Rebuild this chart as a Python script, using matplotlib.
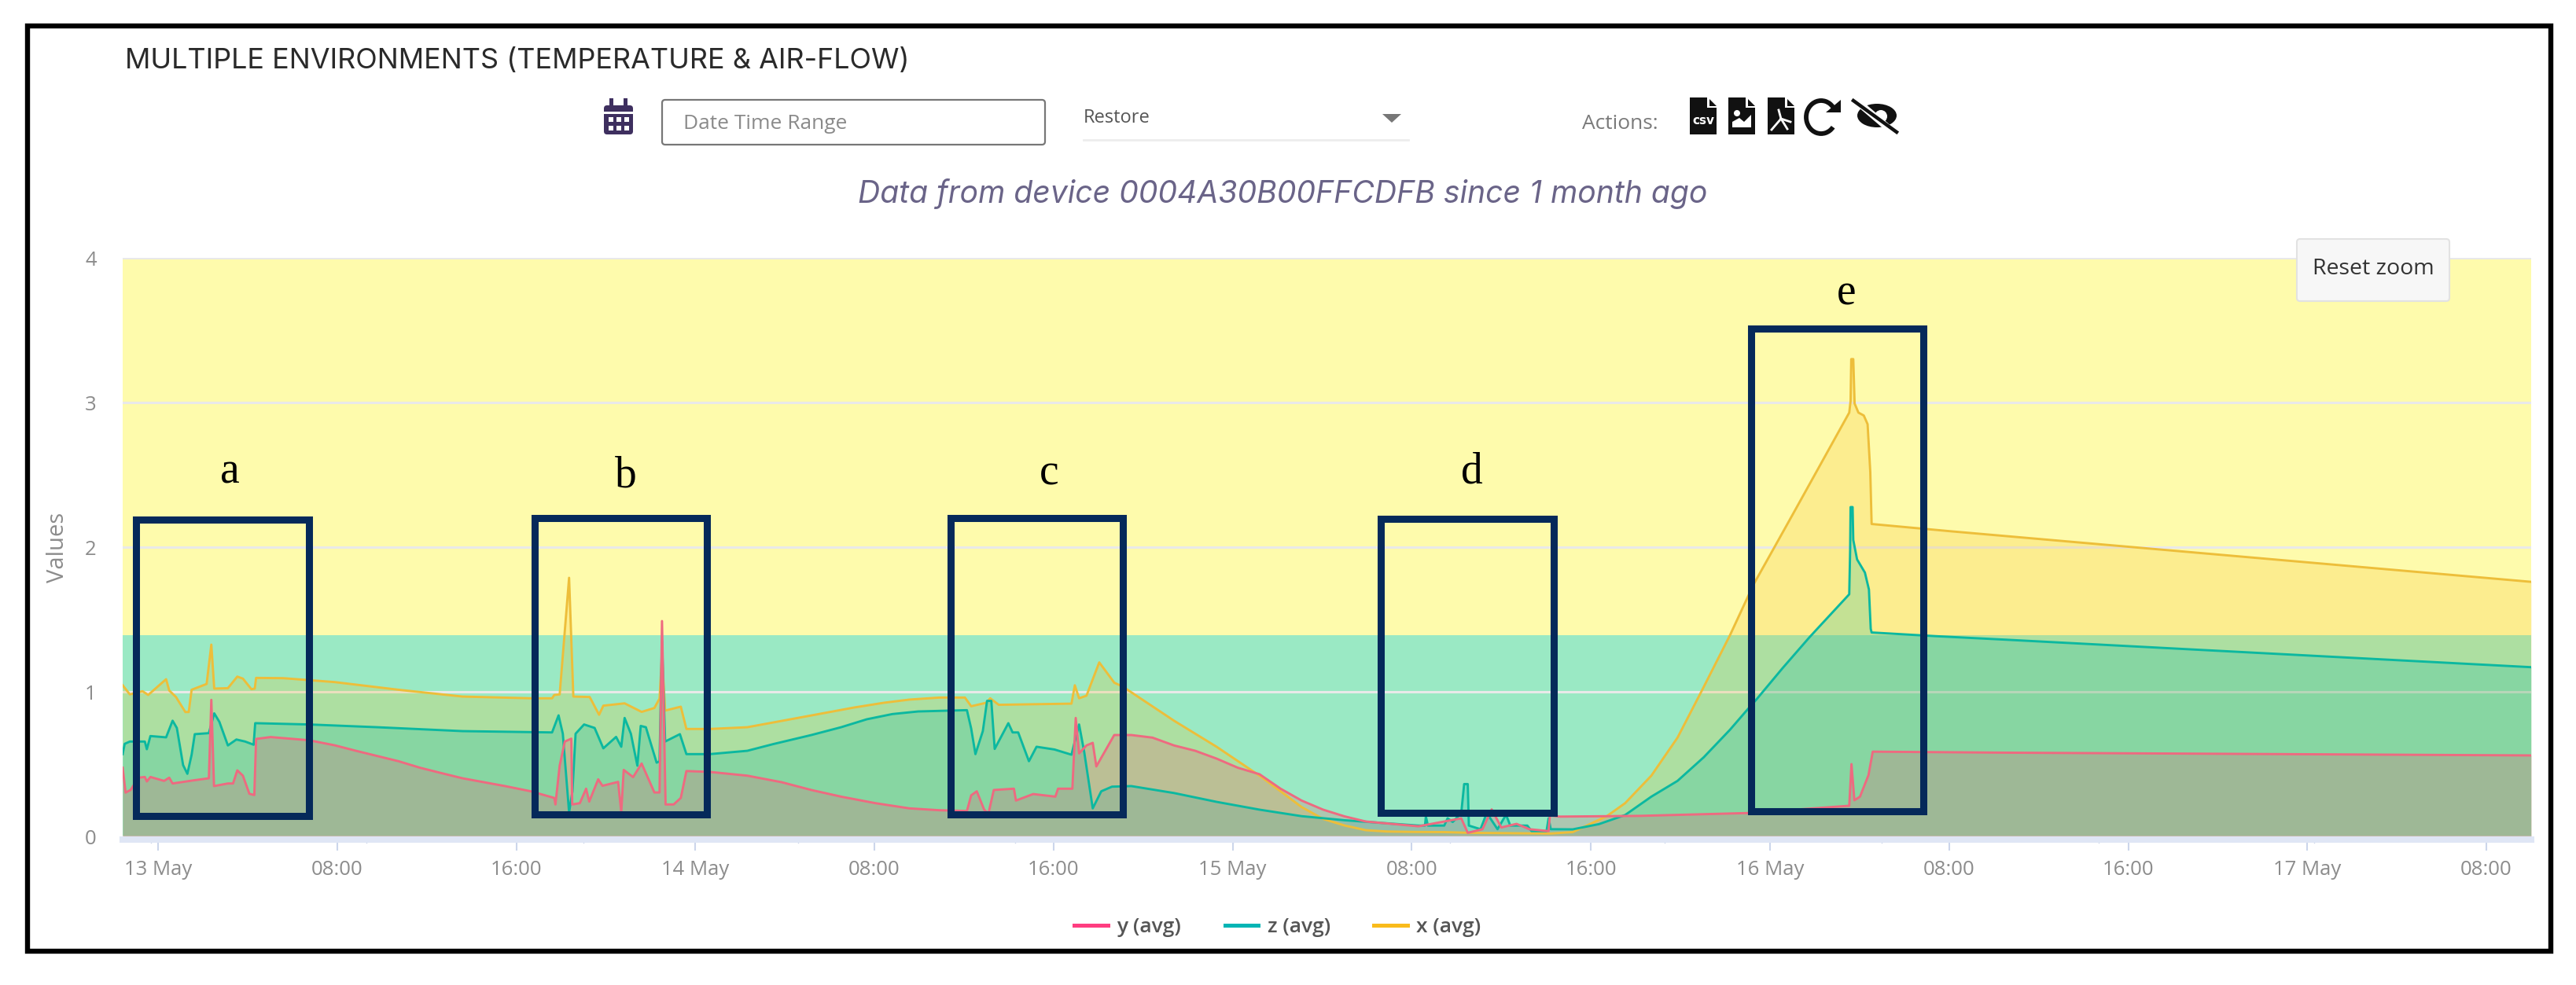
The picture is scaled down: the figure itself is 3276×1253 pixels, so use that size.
import matplotlib
matplotlib.use("Agg")
import matplotlib.pyplot as plt
from matplotlib.lines import Line2D
from matplotlib.patches import Rectangle, FancyBboxPatch, Polygon, Arc, Ellipse, Circle

W, H = 3276, 1253
#----------------------------------------------------
# data, hours since 13 May 00:00 against value
x_hours = [-1.58, -1.26, -0.69, -0.44, 0.36, 0.50, 0.80, 1.22, 1.37, 1.50, 2.17, 2.38, 2.51, 3.12, 3.54, 3.79, 4.17, 4.32,
           4.38, 5.6, 7.89, 10.74, 13.6, 16.65, 17.6, 17.7, 17.94, 18.36, 18.55, 19.28, 19.7, 19.89, 20.84, 21.6, 22.17,
           22.4, 22.51, 22.65, 23.35, 23.6, 24.65, 26.32, 29.2, 31.08, 32.42, 33.56, 34.9, 36.04, 36.32, 36.99, 37.17,
           37.55, 40.8, 40.95, 41.14, 41.47, 42.04, 42.32, 42.71, 43.09, 45.38, 47.28, 49.2, 50.14, 51.08, 52.04, 52.99,
           53.95, 54.9, 56.19, 57.45, 58.6, 62.21, 63.19, 64.71, 65.53, 66.7, 67.87, 68.93, 70.21, 71.27, 72.2, 73.03,
           74.2, 75.54, 75.6, 75.63, 75.72, 75.78, 75.95, 76.19, 76.36, 76.48, 76.54, 80.05, 106.0]
x_vals = [1.045, 0.982, 1.004, 0.978, 1.087, 1.009, 0.964, 0.860, 0.860, 1.014, 1.054, 1.326, 1.022, 1.025, 1.105, 1.091,
          1.018, 1.022, 1.096, 1.094, 1.067, 1.014, 0.967, 0.955, 0.955, 0.978, 0.982, 1.788, 0.967, 0.964, 0.841, 0.904,
          0.920, 0.861, 0.888, 0.953, 1.254, 0.87, 0.897, 0.743, 0.743, 0.755, 0.837, 0.891, 0.924, 0.946, 0.96, 0.96, 0.9,
          0.924, 0.955, 0.91, 0.918, 1.045, 0.955, 0.973, 1.203, 1.145, 1.063, 1.036, 0.80, 0.62, 0.42, 0.312, 0.203, 0.121,
          0.076, 0.043, 0.034, 0.031, 0.03, 0.025, 0.02, 0.03, 0.14, 0.23, 0.42, 0.683, 1.0, 1.39, 1.743, 2.0, 2.23,
          2.556, 2.93, 3.01, 3.30, 3.30, 2.993, 2.93, 2.91, 2.85, 2.52, 2.16, 2.11, 1.76]

z_hours = [-1.58, -1.49, -1.26, -0.59, -0.5, -0.34, 0.36, 0.65, 0.84, 1.12, 1.31, 1.5, 1.64, 2.27, 2.51, 2.74, 3.12, 3.5,
           3.89, 4.27, 4.34, 6.74, 9.79, 13.6, 17.6, 17.89, 18.08, 18.36, 18.51, 18.65, 19.03, 19.5, 19.89, 20.46, 20.69,
           20.84, 21.12, 21.41, 21.56, 21.79, 22.27, 22.4, 22.51, 22.65, 23.31, 23.6, 24.65, 26.32, 27.47, 29.18, 30.51,
           31.66, 32.8, 33.95, 36.13, 36.32, 36.51, 36.84, 37.03, 37.22, 37.37, 37.98, 38.17, 38.42, 38.9, 39.24, 40.04,
           40.8, 41.14, 41.37, 41.75, 42.13, 42.61, 43.47, 45.38, 47.28, 49.2, 51.08, 52.99, 56.3, 56.59, 56.63, 56.72,
           57.45, 57.6, 57.83, 58.21, 58.34, 58.5, 58.55, 59.07, 59.35, 59.83, 60.21, 60.4, 61.16, 61.35, 62.02, 62.11,
           62.21, 63.19, 64.36, 65.53, 66.7, 67.87, 69.04, 70.21, 70.92, 71.39, 72.56, 73.73, 74.08, 75.54, 75.58, 75.6,
           75.69, 75.72, 75.89, 76.24, 76.42, 76.5, 76.54, 79.35, 82.55, 106.0]
z_vals = [0.569, 0.64, 0.656, 0.656, 0.603, 0.694, 0.685, 0.8, 0.75, 0.493, 0.433, 0.565, 0.707, 0.714, 0.851, 0.792, 0.629,
          0.67, 0.656, 0.634, 0.783, 0.774, 0.755, 0.728, 0.719, 0.837, 0.71, 0.167, 0.312, 0.71, 0.774, 0.75, 0.609, 0.688,
          0.62, 0.819, 0.71, 0.489, 0.764, 0.755, 0.51, 0.519, 1.353, 0.656, 0.707, 0.569, 0.569, 0.592, 0.638, 0.701, 0.755,
          0.81, 0.846, 0.864, 0.873, 0.746, 0.569, 0.728, 0.937, 0.937, 0.605, 0.783, 0.719, 0.719, 0.52, 0.62, 0.601, 0.565,
          0.774, 0.583, 0.194, 0.312, 0.344, 0.348, 0.30, 0.239, 0.185, 0.14, 0.112, 0.075, 0.075, 0.137, 0.075, 0.075,
          0.125, 0.1, 0.162, 0.362, 0.362, 0.075, 0.05, 0.162, 0.05, 0.15, 0.075, 0.075, 0.037, 0.037, 0.125, 0.05, 0.049,
          0.085, 0.148, 0.275, 0.384, 0.547, 0.737, 0.864, 0.946, 1.163, 1.371, 1.43, 1.674, 1.978, 2.277, 2.277, 2.05,
          1.915, 1.824, 1.707, 1.435, 1.41, 1.385, 1.36, 1.17]

y_hours = [-1.58, -1.45, -1.22, -0.88, -0.59, -0.5, -0.34, 0.27, 0.5, 0.65, 1.6, 2.27, 2.38, 2.5, 3.12, 3.35, 3.54, 3.79,
           4.08, 4.3, 4.38, 5.03, 6.74, 7.89, 8.84, 9.79, 10.74, 11.7, 12.65, 13.6, 14.55, 15.5, 16.65, 17.7, 17.75, 17.94,
           18.17, 18.46, 18.5, 18.84, 19.12, 19.26, 19.66, 19.85, 20.55, 20.69, 20.8, 21.22, 21.6, 22.17, 22.4, 22.51, 22.67,
           23.03, 23.35, 23.6, 24.65, 26.32, 27.85, 29.18, 30.51, 32.04, 33.56, 34.9, 36.13, 36.32, 36.57, 36.9, 37.09,
           37.33, 38.23, 38.32, 39.09, 40.08, 40.2, 40.84, 40.99, 41.14, 41.47, 41.75, 41.91, 42.71, 43.47, 44.42, 45.38,
           46.33, 47.28, 48.23, 49.2, 50.14, 51.08, 52.04, 52.99, 53.95, 56.3, 58.21, 58.5, 59.16, 59.57, 60.0, 60.68,
           61.25, 62.11, 62.17, 62.6, 66.16, 71.1, 75.54, 75.64, 75.77, 76.02, 76.4, 76.59, 82.55, 106.0]
y_vals = [0.475, 0.303, 0.322, 0.406, 0.411, 0.38, 0.411, 0.384, 0.406, 0.366, 0.388, 0.402, 0.944, 0.348, 0.366, 0.366,
          0.457, 0.42, 0.295, 0.286, 0.674, 0.687, 0.665, 0.63, 0.592, 0.556, 0.52, 0.475, 0.438, 0.402, 0.375, 0.348, 0.312,
          0.266, 0.221, 0.49, 0.656, 0.676, 0.221, 0.23, 0.33, 0.241, 0.395, 0.35, 0.377, 0.168, 0.46, 0.41, 0.504, 0.304,
          0.304, 1.489, 0.221, 0.221, 0.266, 0.452, 0.446, 0.42, 0.375, 0.321, 0.275, 0.23, 0.194, 0.181, 0.176, 0.284,
          0.312, 0.185, 0.158, 0.321, 0.33, 0.248, 0.293, 0.275, 0.33, 0.33, 0.819, 0.574, 0.629, 0.647, 0.484, 0.701, 0.701,
          0.683, 0.629, 0.592, 0.538, 0.475, 0.43, 0.33, 0.248, 0.185, 0.139, 0.103, 0.07, 0.125, 0.025, 0.05, 0.187, 0.062,
          0.087, 0.05, 0.037, 0.145, 0.137, 0.142, 0.162, 0.212, 0.5, 0.25, 0.275, 0.424, 0.586, 0.579, 0.56]

tick_hours = list(range(0, 105, 8))
tick_labels = ["13 May", "08:00", "16:00", "14 May", "08:00", "16:00", "15 May", "08:00", "16:00",
               "16 May", "08:00", "16:00", "17 May", "08:00"]
small_tick_hours = [-0.3, 9.3, 19.0, 28.6, 38.3, 48.0, 57.7, 67.3, 77.0, 86.7, 96.3]
band_top = 1.39

# annotation boxes: letter, hour from, hour to, value from, value to, letter hour, letter value
boxes = [("a", -0.97, 6.73, 0.14, 2.19, 3.2, 2.52),
         ("b", 16.81, 24.50, 0.15, 2.20, 20.9, 2.49),
         ("c", 35.39, 43.08, 0.15, 2.20, 39.8, 2.51),
         ("d", 54.60, 62.33, 0.163, 2.196, 58.7, 2.52),
         ("e", 71.15, 78.84, 0.174, 3.51, 75.4, 3.75)]
#----------------------------------------------------
fig = plt.figure(figsize=(W / 100, H / 100), dpi=100, facecolor="white")
ax = fig.add_axes([156 / W, (H - 1064) / H, (3219 - 156) / W, (1064 - 328) / H])
ax.set_xlim(-1.58, 106)
ax.set_ylim(0, 4)
ax.axhspan(band_top, 4, color="#FEFBAC", lw=0, zorder=0)
ax.axhspan(0, band_top, color="#9AE9C4", lw=0, zorder=0)
ax.set_yticks([0, 1, 2, 3, 4])
ax.grid(True, axis="y", color="#E9E9E9", lw=2.2)
ax.set_axisbelow(True)
for name in ["top", "left", "right"]:
    ax.spines[name].set_visible(False)
ax.spines["bottom"].set_position(("outward", 2.9))
ax.spines["bottom"].set_color("#DFE6F5")
ax.spines["bottom"].set_linewidth(5.8)
ax.set_xticks(tick_hours)
ax.set_xticklabels(tick_labels, fontfamily="Open Sans", fontsize=18.5, color="#8C8C8C")
ax.tick_params(axis="x", length=10, width=1.5, color="#CCD6EB", pad=9)
ax.tick_params(axis="y", length=0, pad=24, labelsize=18.5, labelcolor="#8C8C8C")
for t in ax.get_yticklabels():
    t.set_fontfamily("Open Sans")
ax.set_ylabel("Values", fontfamily="Open Sans", fontsize=21, color="#8C8C8C", labelpad=14)
for h in small_tick_hours:
    ax.plot([h, h], [-0.012, -0.045], color="#CCD6EB", lw=1, clip_on=False, zorder=2)

series = [(x_hours, x_vals, "#F5BE28", "#EDBE3A"),
          (z_hours, z_vals, "#00B8AA", "#0CB8A0"),
          (y_hours, y_vals, "#F0506E", "#EE6A80")]
for hours, vals, fill, line in series:
    ax.fill_between(hours, vals, 0, color=fill, alpha=0.22, lw=0, zorder=2)
    ax.plot(hours, vals, color=line, lw=2.1, zorder=3, solid_joinstyle="round")

for letter, h0, h1, v0, v1, lh, lv in boxes:
    ax.add_patch(Rectangle((h0, v0), h1 - h0, v1 - v0, fill=False, ec="#05295A", lw=6.5,
                           zorder=6, joinstyle="miter", clip_on=False))
    ax.text(lh, lv, letter, family="Liberation Serif", fontsize=40, color="black",
            ha="center", va="center", zorder=6)

handles = [Line2D([], [], color="#FF3D80", lw=3.6), Line2D([], [], color="#03B5B5", lw=3.6),
           Line2D([], [], color="#F9BB1C", lw=3.6)]
leg = fig.legend(handles, ["y (avg)", "z (avg)", "x (avg)"], loc="center", ncol=3, frameon=False,
                 bbox_to_anchor=(1625 / W, 1 - 1180 / H), handlelength=1.6,
                 handletextpad=0.45, columnspacing=2.1, labelcolor="#555555",
                 prop={"family": "Open Sans", "size": 19, "weight": 600})

#----------------------------------------------------
# page furniture in pixel coordinates
ui = fig.add_axes([0, 0, 1, 1], zorder=5)
ui.set_xlim(0, W)
ui.set_ylim(H, 0)
ui.axis("off")
ui.patch.set_alpha(0)

ui.add_patch(Rectangle((35, 33), 3209, 1177, fill=False, ec="black", lw=4.6, joinstyle="miter"))
ui.text(159, 77, "MULTIPLE ENVIRONMENTS (TEMPERATURE & AIR-FLOW)", family="Inter", fontsize=25.9,
        color="#2A2A2A", va="center", ha="left")

# calendar
ui.add_patch(FancyBboxPatch((768, 134), 37, 37, boxstyle="round,pad=0,rounding_size=4", fc="#3E2F5F", ec="none"))
for px in [777, 795]:
    ui.add_patch(Rectangle((px - 2, 125), 5, 10, fc="#3E2F5F", ec="none"))
ui.add_patch(Rectangle((768, 142), 37, 3, fc="white", ec="none"))
for px in [774, 784, 794]:
    for py in [149, 160]:
        ui.add_patch(Rectangle((px, py), 6, 6, fc="white", ec="none"))

ui.add_patch(FancyBboxPatch((842, 127), 487, 57, boxstyle="round,pad=0,rounding_size=4", fc="white", ec="#777777", lw=1.6))
ui.text(869, 157, "Date Time Range", family="Open Sans", fontsize=19, color="#8A8A8A", va="center")
ui.text(1378, 150, "Restore", family="Open Sans", fontsize=17, color="#555555", va="center")
ui.plot([1378, 1791], [178, 178], color="#EDEDED", lw=2)
ui.add_patch(Polygon([[1758, 145], [1782, 145], [1770, 156]], fc="#777777", ec="none"))
ui.text(2012, 157, "Actions:", family="Open Sans", fontsize=19, color="#7A7A7A", va="center")


def file_icon(x0, x1):
    ui.add_patch(Polygon([[x0, 124], [x1 - 12, 124], [x1 - 12, 137], [x1, 137], [x1, 171], [x0, 171]],
                         fc="#111111", ec="none"))
    ui.add_patch(Polygon([[x1 - 9, 126], [x1, 135], [x1 - 9, 135]], fc="#111111", ec="none"))


file_icon(2149, 2183)
ui.text(2166, 154, "csv", family="DejaVu Sans", fontsize=11, weight="bold", color="white", ha="center", va="center")
file_icon(2198, 2232)
ui.add_patch(Circle((2209, 144), 4, fc="white", ec="none"))
ui.add_patch(Polygon([[2203, 162], [2203, 155], [2212, 150], [2218, 155], [2227, 146], [2227, 162]], fc="white", ec="none"))
file_icon(2248, 2282)
ui.plot([2253, 2265, 2277], [165, 151, 155], color="white", lw=2)
ui.plot([2265, 2262], [151, 140], color="white", lw=2)
ui.plot([2265, 2273], [151, 164], color="white", lw=2)
ui.add_patch(Arc((2316, 149), 38, 42, theta1=40, theta2=320, ec="#111111", lw=4.2))
ui.add_patch(Polygon([[2322, 143], [2341, 143], [2341, 127]], fc="#111111", ec="none"))
ui.add_patch(Ellipse((2387, 147), 50, 30, fc="#111111", ec="none"))
ui.add_patch(Circle((2392, 148), 8, fc="white", ec="none"))
ui.plot([2357, 2412], [125, 172], color="white", lw=6.5)
ui.plot([2357, 2412], [128, 168], color="#111111", lw=3.2)

ui.text(1631, 247, "Data from device 0004A30B00FFCDFB since 1 month ago", family="Inter", style="italic",
        fontsize=28.2, color="#6A6488", ha="center", va="center")
ui.add_patch(FancyBboxPatch((2921, 304), 194, 79, boxstyle="round,pad=0,rounding_size=4", fc="#F7F7F7", ec="#E2E2E2", lw=1.5))
ui.text(3018, 342, "Reset zoom", family="Open Sans", fontsize=20.5, color="#333333", ha="center", va="center")

fig.savefig("out.png", dpi=100, facecolor="white")
